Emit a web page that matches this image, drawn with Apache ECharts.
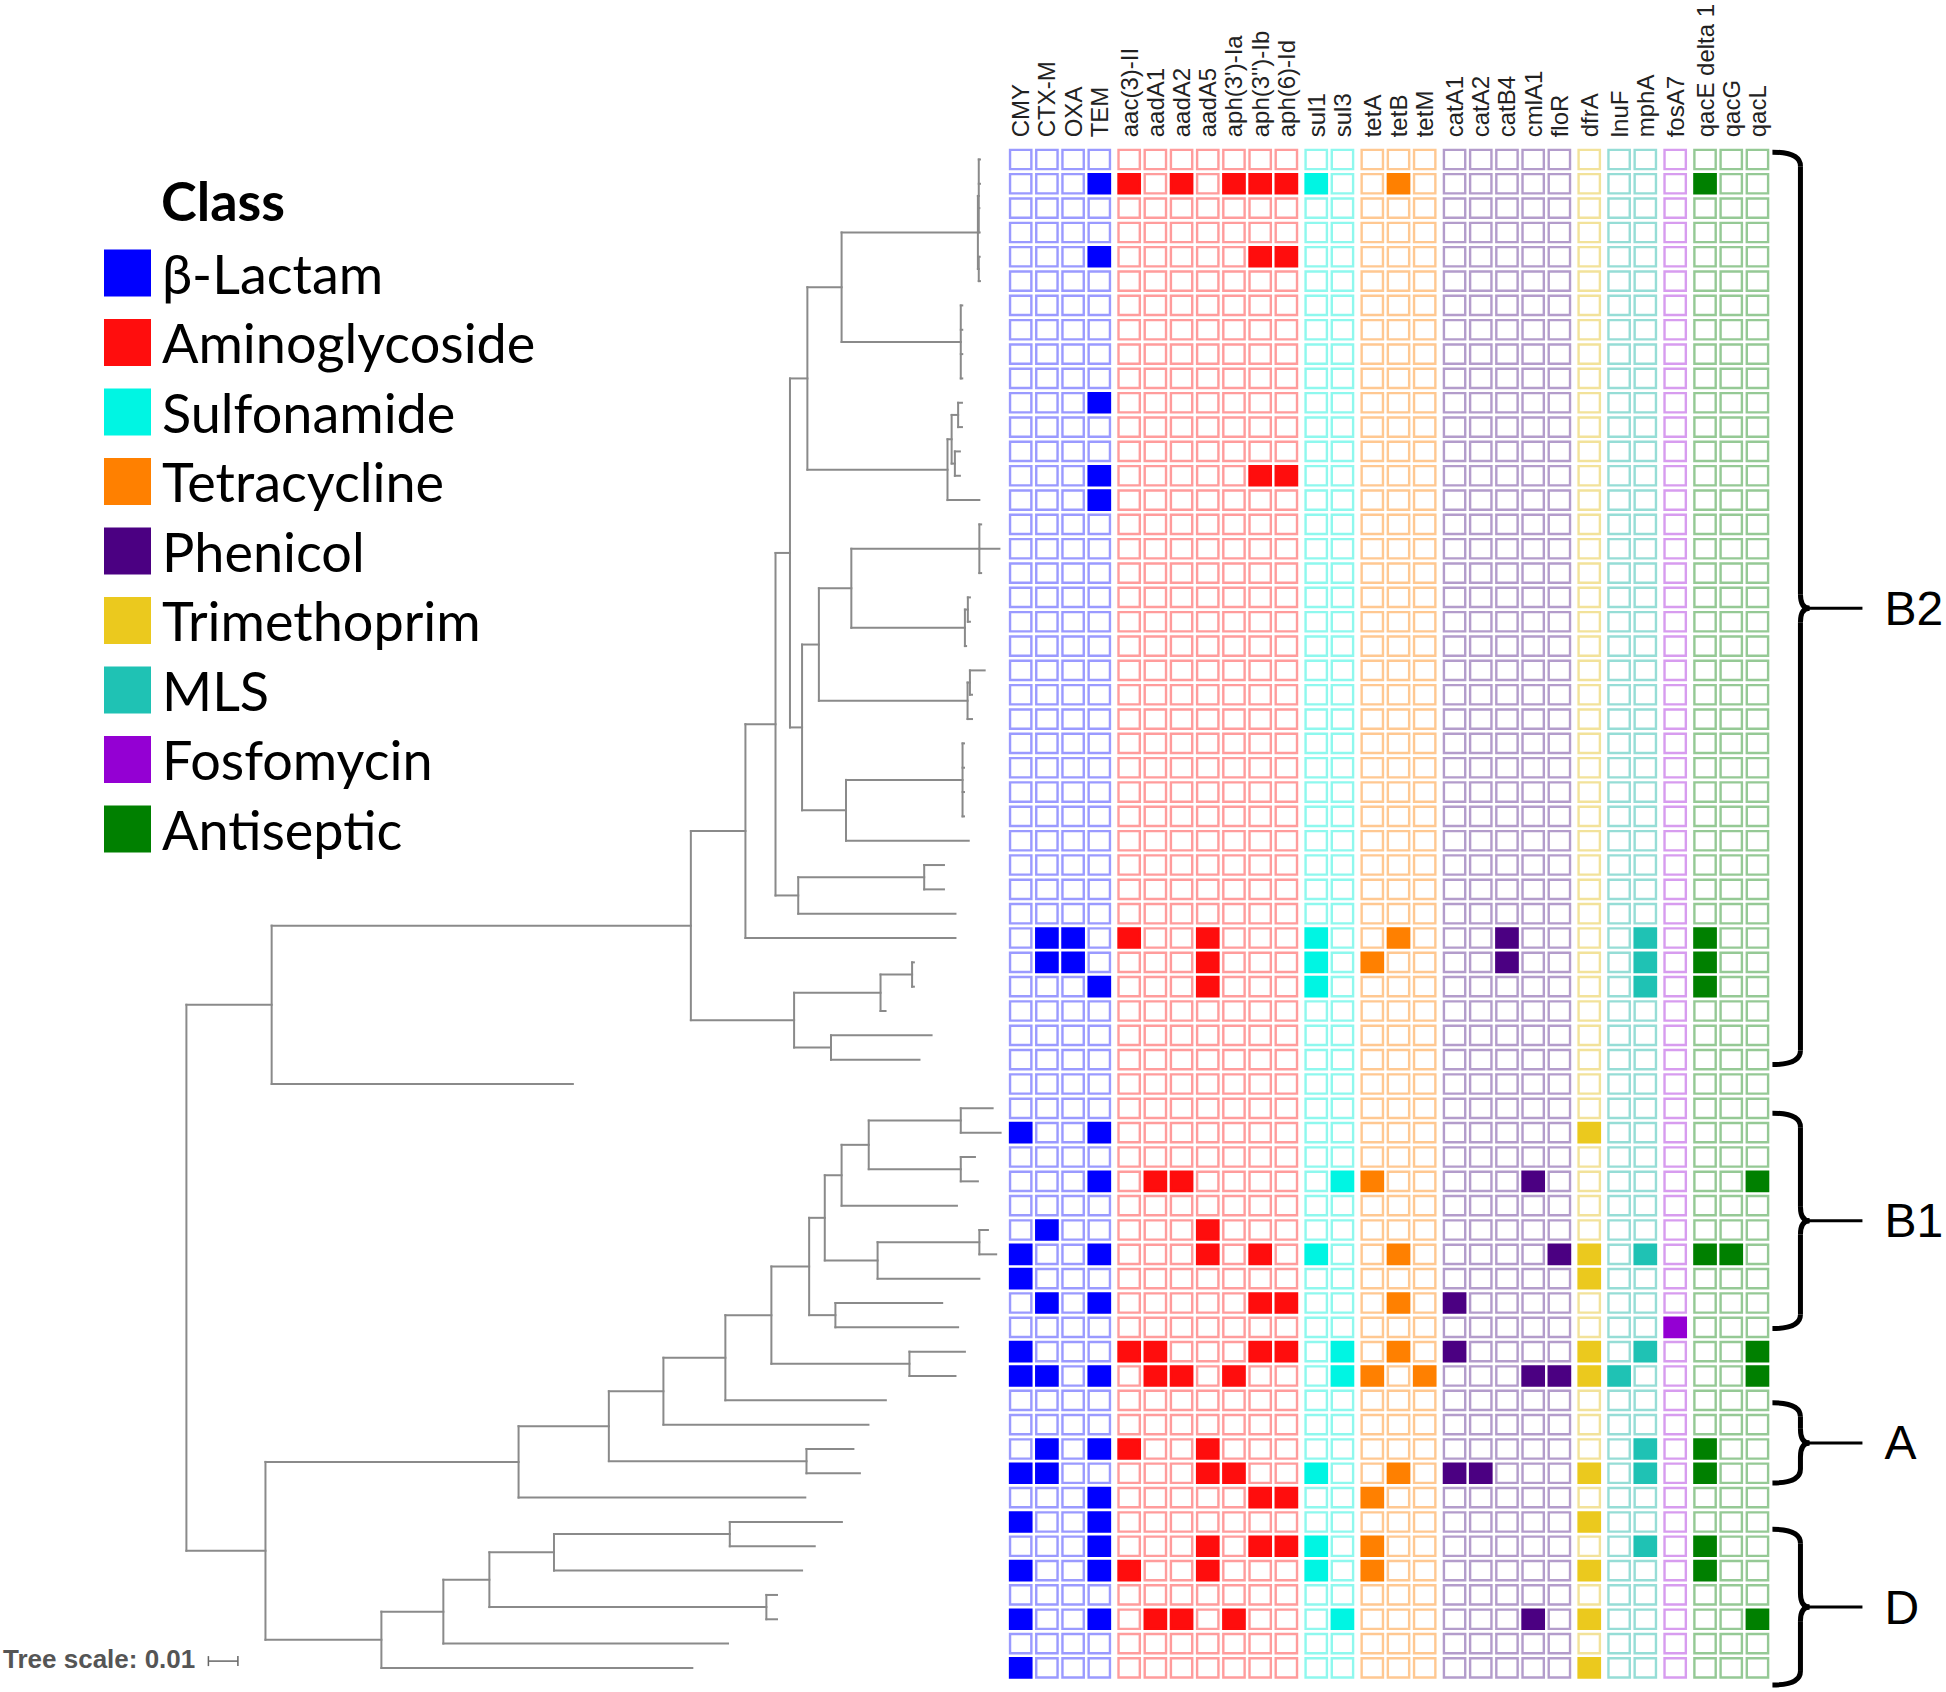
<!DOCTYPE html>
<html><head><meta charset="utf-8">
<script src="https://cdn.jsdelivr.net/npm/echarts@6/dist/echarts.min.js"></script>
<style>html,body{margin:0;padding:0;background:#fff}#c{width:1946px;height:1692px}</style>
</head><body><div id="c"></div>
<script>
// ---------------- DATA ----------------
const classes = ['β-Lactam','Aminoglycoside','Sulfonamide','Tetracycline','Phenicol','Trimethoprim','MLS','Fosfomycin','Antiseptic'];
const classFill = ['#0000ff','#ff0d0d','#00f5e3','#ff8000','#4b0082','#ebc91e','#1fc2b4','#9400d3','#008000'];
const classLine = ['#9a9aff','#ff9c9c','#8ef8ee','#ffc891','#b39ccb','#f2e29a','#96ddd6','#d79cef','#95c995'];

const genes = ['CMY','CTX-M','OXA','TEM','aac(3)-II','aadA1','aadA2','aadA5',"aph(3')-Ia","aph(3'')-Ib",'aph(6)-Id',
  'sul1','sul3','tetA','tetB','tetM','catA1','catA2','catB4','cmlA1','floR','dfrA','lnuF','mphA','fosA7',
  'qacE delta 1','qacG','qacL'];
const geneClass = [0,0,0,0,1,1,1,1,1,1,1,2,2,3,3,3,4,4,4,4,4,5,6,6,7,8,8,8];
// rows (1 = top) in which each gene is present
const geneRows = [
  [41,46,47,50,51,55,57,59,61,63],          // CMY
  [33,34,45,48,51,54,55],                   // CTX-M
  [33,34],                                  // OXA
  [2,5,11,14,15,35,41,43,46,48,51,54,56,57,58,59,61], // TEM
  [2,33,50,54,59],                          // aac(3)-II
  [43,50,51,61],                            // aadA1
  [2,43,51,61],                             // aadA2
  [33,34,35,45,46,54,55,58,59],             // aadA5
  [2,51,55,61],                             // aph(3')-Ia
  [2,5,14,46,48,50,56,58],                  // aph(3'')-Ib
  [2,5,14,48,50,56,58],                     // aph(6)-Id
  [2,33,34,35,46,55,58,59],                 // sul1
  [43,50,51,61],                            // sul3
  [34,43,51,56,58,59],                      // tetA
  [2,33,46,48,50,55],                       // tetB
  [51],                                     // tetM
  [48,50,55],                               // catA1
  [55],                                     // catA2
  [33,34],                                  // catB4
  [43,51,61],                               // cmlA1
  [46,51],                                  // floR
  [41,46,47,50,51,55,57,59,61,63],          // dfrA
  [51],                                     // lnuF
  [33,34,35,46,50,54,55,58],                // mphA
  [49],                                     // fosA7
  [2,33,34,35,46,54,55,58,59],              // qacE delta 1
  [46],                                     // qacG
  [43,50,51,61]                             // qacL
];
const rowCount = 63;

const clusterNames = ['B2','B1','A','D'];
const clusterFrom  = [0.7, 40.2, 52.1, 57.3];
const clusterTo    = [38.2, 49.05, 55.4, 63.7];

const treeScale = 0.01;
// phylogeny (leaf name = row number), branch lengths
const treeUpper =
  "(((((" +
  "((((1:0.0004,2:0.0004,3:0.0002,4:0.0003):0.0003,(5:0.0003,6:0.0004):0.0003):0.0462,(7:0.0005,8:0.0005,9:0.0005,10:0.0005):0.0404):0.0116,(((11:0.0013,12:0.0013):0.0022,(13:0.0017,14:0.0017):0.0011):0.0014,15:0.0108):0.0475)" +
  ":0.0059," +
  "((((16:0.0006,17:0.0068,18:0.0006):0.0434,((19:0.0007,20:0.0007):0.0010,21:0.0004):0.0385):0.0110,((22:0.0050,23:0.0007):0.0008,24:0.0015):0.0504):0.0057,((25:0.0005,26:0.0005,27:0.0005,28:0.0005):0.0395,29:0.0416):0.0149)" +
  ":0.0041):0.0049," +
  "((30:0.0067,31:0.0067):0.0427,32:0.0533)" +
  ":0.0077):0.0102,33:0.0712):0.0185," +
  "(((34:0.0006,35:0.0006):0.0107,36:0.0017):0.0293,(37:0.0341,38:0.0300):0.0125)" +
  ":0.0350):0.1421,39:0.1021)";
const treeLower =
  "((((((((" +
  "(((40:0.0108,41:0.0135):0.0312,(42:0.0048,43:0.0058):0.0312):0.0092,44:0.0391)" +
  ":0.0057," +
  "((45:0.0029,46:0.0057):0.0345,47:0.0345)" +
  ":0.0179):0.0053,(48:0.0362,49:0.0416):0.0089):0.0128,(50:0.0188,51:0.0156):0.0468):0.0156,52:0.0544):0.0210,53:0.0695):0.0185,(54:0.0159,55:0.0181):0.0670):0.0306,56:0.0972):0.0858," +
  "(((((57:0.0380,58:0.0288):0.0596,59:0.0841):0.0219,(60:0.0036,61:0.0036):0.0939):0.0156,62:0.0965):0.0210,63:0.1054)" +
  ":0.0393)";
const treeNewick = "(" + treeUpper + ":0.0289," + treeLower + ":0.0268);";

// ---------------- BUILD ----------------
function parseNewick(s) {
  let i = 0;
  function node() {
    const n = {children: [], len: 0, name: ''};
    if (s[i] === '(') {
      i++;
      n.children.push(node());
      while (s[i] === ',') { i++; n.children.push(node()); }
      i++;
    }
    let name = '';
    while (i < s.length && !',():;'.includes(s[i])) name += s[i++];
    n.name = name.trim();
    if (s[i] === ':') {
      i++; let num = '';
      while (i < s.length && !',();'.includes(s[i])) num += s[i++];
      n.len = parseFloat(num);
    }
    return n;
  }
  return node();
}
function layoutTree(n, px) {
  n.x = px + n.len;
  if (!n.children.length) n.y = parseInt(n.name, 10);
  else {
    n.children.forEach(c => layoutTree(c, n.x));
    n.y = (n.children[0].y + n.children[n.children.length - 1].y) / 2;
  }
}
function collect(n, parent, out) {
  if (parent) out.push([parent.x, n.y, n.x, n.y]);
  if (n.children.length) {
    out.push([n.x, n.children[0].y, n.x, n.children[n.children.length - 1].y]);
    n.children.forEach(c => collect(c, n, out));
  }
}
const root = parseNewick(treeNewick);
layoutTree(root, 0);
const treeSegs = [];
collect(root, null, treeSegs);

const colPos = genes.map((g, i) => i + geneClass[i] * 0.14);

const TOP = 147.3, HEIGHT = 1532.8;

const series = [];
series.push({
  type: 'custom', name: 'tree', xAxisIndex: 0, yAxisIndex: 0, silent: true,
  encode: {x: [0, 2], y: [1, 3]},
  data: treeSegs,
  renderItem(params, api) {
    const a = api.coord([api.value(0), api.value(1)]);
    const b = api.coord([api.value(2), api.value(3)]);
    return {type: 'line', shape: {x1: a[0], y1: a[1], x2: b[0], y2: b[1]},
      style: {stroke: '#8a8a8a', lineWidth: 2, lineCap: 'square'}};
  }
});
series.push({
  type: 'custom', name: 'scale', xAxisIndex: 0, yAxisIndex: 0, silent: true,
  data: [[0, rowCount]],
  renderItem(params, api) {
    const cs = params.coordSys;
    const len = api.size([treeScale, 0])[0];
    const bx = cs.x + 22, by = cs.y + cs.height - 19;
    const st = {stroke: '#666', lineWidth: 1.5};
    return {type: 'group', children: [
      {type: 'line', shape: {x1: bx, y1: by, x2: bx + len, y2: by}, style: st},
      {type: 'line', shape: {x1: bx, y1: by - 5, x2: bx, y2: by + 5}, style: st},
      {type: 'line', shape: {x1: bx + len, y1: by - 5, x2: bx + len, y2: by + 5}, style: st},
      {type: 'text', x: 3, y: by - 2, style: {text: 'Tree scale: ' + treeScale, fill: '#555',
        fontSize: 26, fontWeight: 'bold', fontFamily: 'Liberation Sans Narrow, Liberation Sans, Arial',
        align: 'left', verticalAlign: 'middle'}}
    ]};
  }
});
classes.forEach((cls, k) => {
  const data = [];
  genes.forEach((g, gi) => {
    if (geneClass[gi] !== k) return;
    for (let r = 1; r <= rowCount; r++) data.push([colPos[gi], r, geneRows[gi].includes(r) ? 1 : 0]);
  });
  series.push({
    type: 'custom', name: cls, xAxisIndex: 1, yAxisIndex: 1, silent: true,
    itemStyle: {color: classFill[k]},
    data,
    renderItem(params, api) {
      const c = api.coord([api.value(0), api.value(1)]);
      const s = api.size([1, 1]);
      const on = api.value(2) > 0;
      const lw = 2.4;
      const w = s[0] * 0.905 - lw, h = s[1] * 0.89 - lw;
      return {type: 'rect', shape: {x: c[0] - w / 2, y: c[1] - h / 2, width: w, height: h},
        style: {fill: on ? classFill[k] : '#fff', stroke: on ? classFill[k] : classLine[k], lineWidth: lw}};
    }
  });
});
series.push({
  type: 'custom', name: 'clusters', xAxisIndex: 1, yAxisIndex: 1, silent: true,
  data: clusterNames.map((n, i) => [clusterFrom[i], clusterTo[i], i]),
  renderItem(params, api) {
    const lastX = colPos[colPos.length - 1];
    const top = api.coord([lastX, api.value(0)])[1];
    const bot = api.coord([lastX, api.value(1)])[1];
    const xr = api.coord([lastX, 1])[0];
    const mid = (top + bot) / 2;
    const x0 = xr + 15, xs = xr + 43, xe = xr + 105, xl = xr + 127, r = 14;
    const st = {stroke: '#000', lineWidth: 5, fill: null};
    return {type: 'group', children: [
      {type: 'bezierCurve', shape: {x1: x0, y1: top, cpx1: xs, cpy1: top, x2: xs, y2: top + r}, style: st},
      {type: 'line', shape: {x1: xs, y1: top + r, x2: xs, y2: mid - r}, style: st},
      {type: 'bezierCurve', shape: {x1: xs, y1: mid - r, cpx1: xs, cpy1: mid, x2: xs + 9, y2: mid}, style: st},
      {type: 'bezierCurve', shape: {x1: xs + 9, y1: mid, cpx1: xs, cpy1: mid, x2: xs, y2: mid + r}, style: st},
      {type: 'line', shape: {x1: xs, y1: mid + r, x2: xs, y2: bot - r}, style: st},
      {type: 'bezierCurve', shape: {x1: xs, y1: bot - r, cpx1: xs, cpy1: bot, x2: x0, y2: bot}, style: st},
      {type: 'line', shape: {x1: xs + 8, y1: mid, x2: xe, y2: mid}, style: {stroke: '#000', lineWidth: 3}},
      {type: 'text', x: xl, y: mid, style: {text: clusterNames[api.value(2)], fill: '#000', fontSize: 48,
        fontFamily: 'Liberation Sans, Arial', align: 'left', verticalAlign: 'middle'}}
    ]};
  }
});

const chart = echarts.init(document.getElementById('c'), null, {renderer: 'svg'});
chart.setOption({
  animation: false,
  backgroundColor: '#fff',
  title: {text: 'Class', left: 161, top: 172, padding: 0,
    textStyle: {fontSize: 54, fontWeight: 'bold', fontFamily: 'Lato, Open Sans, sans-serif', color: '#000', lineHeight: 56}},
  legend: {orient: 'vertical', left: 104, top: 246, padding: 0, itemWidth: 47, itemHeight: 47, itemGap: 15.5,
    icon: 'rect', selectedMode: false,
    textStyle: {fontSize: 54, fontFamily: 'Lato, Open Sans, sans-serif', color: '#000', lineHeight: 47, padding: [0, 0, 0, 6]},
    data: classes.map((c, i) => ({name: c, itemStyle: {color: classFill[i]}}))},
  grid: [
    {left: 186.4, top: TOP, width: 826, height: HEIGHT},
    {left: 1007.6, top: TOP, width: 890.8, height: HEIGHT}
  ],
  xAxis: [
    {type: 'value', gridIndex: 0, min: 0, max: 0.28, show: false},
    {type: 'value', gridIndex: 1, min: -0.5, max: 33.5, position: 'top',
      axisLine: {show: false}, axisTick: {show: false}, splitLine: {show: false},
      axisLabel: {customValues: colPos, rotate: -90, margin: 10, fontSize: 24, color: '#222',
        fontFamily: 'Liberation Sans, Arial',
        formatter: v => { const i = colPos.findIndex(p => Math.abs(p - v) < 1e-6); return i >= 0 ? genes[i] : ''; }}}
  ],
  yAxis: [
    {type: 'value', gridIndex: 0, min: 0.5, max: rowCount + 0.5, inverse: true, show: false},
    {type: 'value', gridIndex: 1, min: 0.5, max: rowCount + 0.5, inverse: true, show: false}
  ],
  series
});
</script></body></html>
